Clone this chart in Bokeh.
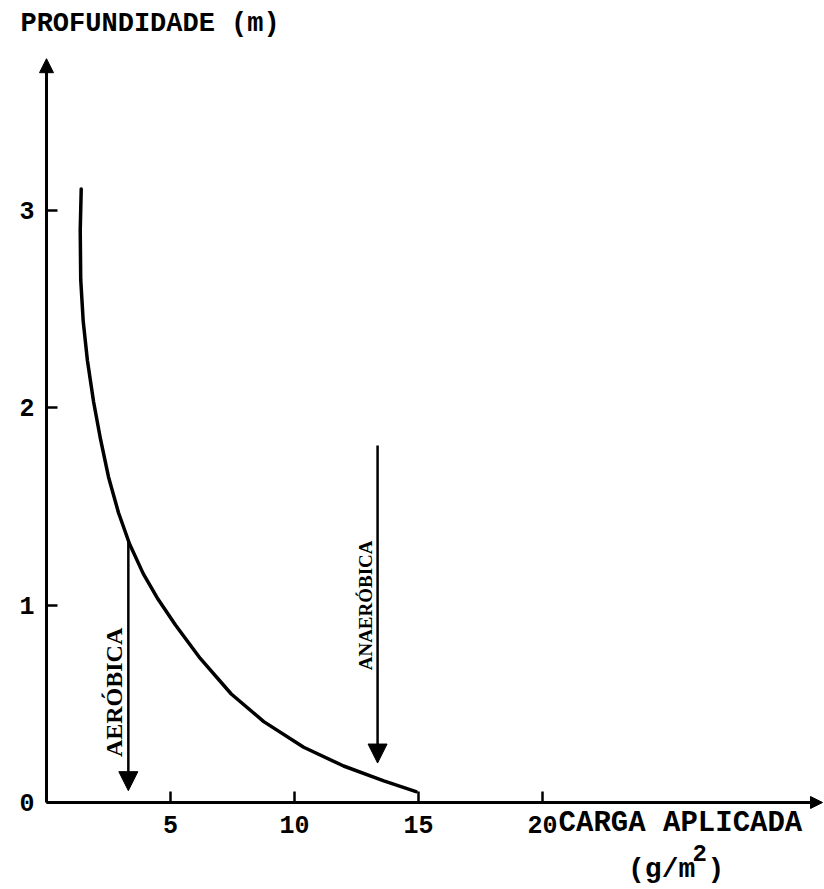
from bokeh.plotting import figure
from bokeh.models import LinearAxis, Arrow, NormalHead, FixedTicker, Range1d
from bokeh.core.properties import value
from bokeh.embed import file_html
from bokeh.resources import INLINE

# Data
carga = [1.40, 1.36, 1.38, 1.48, 1.65, 1.90, 2.18, 2.50, 2.90, 3.35, 3.90, 4.50, 5.20,
         6.20, 7.45, 8.76, 10.37, 11.98, 13.6, 14.9]
profundidade = [3.11, 2.90, 2.65, 2.44, 2.24, 2.03, 1.84, 1.65, 1.47, 1.31, 1.16, 1.03, 0.90,
                0.73, 0.55, 0.41, 0.28, 0.185, 0.11, 0.055]
x_ticks = [5, 10, 15, 20]
y_ticks = [0, 1, 2, 3]
arrow_labels = ["AERÓBICA", "ANAERÓBICA"]
arrow_x = [3.3, 13.35]
arrow_top = [1.32, 1.81]
arrow_tip = [0.06, 0.20]
text_bottom = [0.23, 0.67]

FONT = "Liberation Mono"
SERIF = "Liberation Serif"

p = figure(width=824, height=889, output_backend="svg", toolbar_location=None,
           x_range=Range1d(-1.855, 31.371), y_range=Range1d(-0.441, 4.065),
           x_axis_type=None, y_axis_type=None, min_border=0)
p.outline_line_color = None
p.xgrid.visible = False
p.ygrid.visible = False
p.background_fill_color = "white"
p.border_fill_color = "white"

xa = LinearAxis(fixed_location=0, bounds=(0, 31.0), ticker=FixedTicker(ticks=x_ticks))
ya = LinearAxis(fixed_location=0, bounds=(0, 3.7), ticker=FixedTicker(ticks=y_ticks))
for ax in (xa, ya):
    ax.axis_line_width = 3
    ax.axis_line_color = "black"
    ax.major_tick_in = 11
    ax.major_tick_out = 0
    ax.major_tick_line_width = 2.5
    ax.minor_tick_line_color = None
    ax.major_label_text_font = FONT
    ax.major_label_text_font_style = "bold"
    ax.major_label_text_font_size = "25px"
    ax.major_label_text_color = "black"
xa.major_label_standoff = 14
ya.major_label_standoff = 12
p.add_layout(xa, "below")
p.add_layout(ya, "left")

# axis arrow heads
p.add_layout(Arrow(end=NormalHead(size=14, fill_color="black", line_color="black"),
                   x_start=0, y_start=3.5, x_end=0, y_end=3.77,
                   line_width=3, line_color="black"))
p.add_layout(Arrow(end=NormalHead(size=12, fill_color="black", line_color="black"),
                   x_start=30.5, y_start=0, x_end=31.29, y_end=0,
                   line_width=3, line_color="black"))

# curve
p.line(carga, profundidade, line_width=3.5, line_color="black", line_join="round", line_cap="round")

# vertical arrows with labels
for xv, yt, yb in zip(arrow_x, arrow_top, arrow_tip):
    p.add_layout(Arrow(end=NormalHead(size=19, fill_color="black", line_color="black"),
                       x_start=xv, y_start=yt, x_end=xv, y_end=yb,
                       line_width=2.5, line_color="black"))
p.text(x=[arrow_x[0] - 0.06], y=[text_bottom[0]], text=[arrow_labels[0]], angle=1.5708,
       text_font=value(SERIF), text_font_style="bold",
       text_font_size="24px", text_baseline="bottom", text_align="left", text_color="black")
p.text(x=[arrow_x[1] - 0.06], y=[text_bottom[1]], text=[arrow_labels[1]], angle=1.5708,
       text_font=value(SERIF), text_font_style="bold",
       text_font_size="19px", text_baseline="bottom", text_align="left", text_color="black")

# axis titles
p.text(x=[-1.05], y=[3.945], text=["PROFUNDIDADE (m)"], text_font=value(FONT),
       text_font_style="bold", text_font_size="27px", text_baseline="alphabetic",
       text_align="left", text_color="black")
p.text(x=[20.65], y=[-0.105], text=["CARGA APLICADA"], text_font=value(FONT),
       text_font_style="bold", text_font_size="29px", text_baseline="alphabetic",
       text_align="left", text_color="black")
p.text(x=[23.45], y=[-0.34], text=["(g/m"], text_font=value(FONT),
       text_font_style="bold", text_font_size="28px", text_baseline="alphabetic",
       text_align="left", text_color="black")
p.text(x=[26.05], y=[-0.255], text=["2"], text_font=value(FONT),
       text_font_style="bold", text_font_size="24px", text_baseline="alphabetic",
       text_align="left", text_color="black")
p.text(x=[26.65], y=[-0.34], text=[")"], text_font=value(FONT),
       text_font_style="bold", text_font_size="28px", text_baseline="alphabetic",
       text_align="left", text_color="black")

open("out.html", "w").write(file_html(p, INLINE))
